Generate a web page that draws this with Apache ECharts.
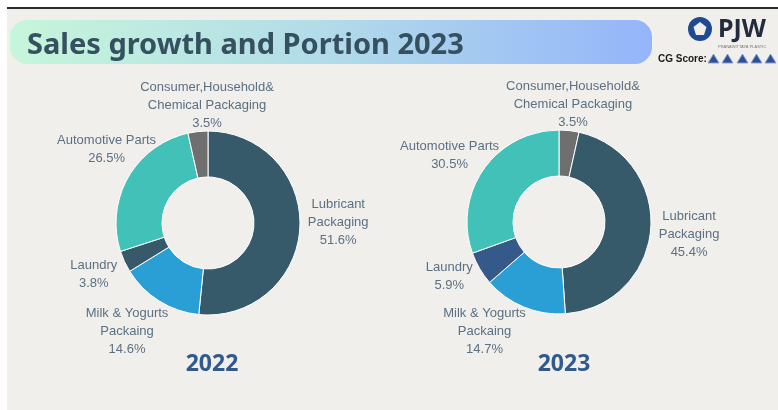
<!DOCTYPE html>
<html><head><meta charset="utf-8">
<script src="https://cdn.jsdelivr.net/npm/echarts@6/dist/echarts.min.js"></script>
<style>html,body{margin:0;padding:0;background:#fff}#c{width:778px;height:410px}</style>
</head><body><div id="c"></div>
<script>
// ---- data ----
const title = 'Sales growth and Portion 2023';
const year1 = '2022';
const year2 = '2023';
const cats2022 = ['Lubricant\nPackaging', 'Milk & Yogurts\nPackaing', 'Laundry', 'Automotive Parts', 'Consumer,Household&\nChemical Packaging'];
const vals2022 = [51.6, 14.6, 3.8, 26.5, 3.5];
const cats2023 = ['Consumer,Household&\nChemical Packaging', 'Lubricant\nPackaging', 'Milk & Yogurts\nPackaing', 'Laundry', 'Automotive Parts'];
const vals2023 = [3.5, 45.4, 14.7, 5.9, 30.5];

// ---- styles ----
const colors2022 = ['#375a6b', '#2a9fd5', '#375a6b', '#42c1b8', '#6f6f6f'];
const colors2023 = ['#6f6f6f', '#375a6b', '#2a9fd5', '#355a8a', '#42c1b8'];
const centers = [[208, 223], [559, 222]];
const radii = [46, 92];
const labelGap = 8;
const nudges2022 = [[0, -7], [-11, -3], [0, -1], [17, -6], [13, 9]];
const nudges2023 = [[0, 9], [0, 3], [-25, -10], [0, -10], [-2, 9]];
const labelColor = '#5b7083';

function makeLayout(vals, center, nudges) {
  const total = vals.reduce((a, b) => a + b, 0);
  return function (p) {
    let before = 0;
    for (let i = 0; i < p.dataIndex; i++) before += vals[i];
    const mid = (before + vals[p.dataIndex] / 2) / total * Math.PI * 2;
    const dx = Math.sin(mid), dy = -Math.cos(mid);
    const w = p.labelRect.width, h = p.labelRect.height;
    const r0 = radii[1] + labelGap;
    const t = Math.min(Math.abs(dx) > 1e-6 ? w / 2 / Math.abs(dx) : 1e9, Math.abs(dy) > 1e-6 ? h / 2 / Math.abs(dy) : 1e9);
    const n = nudges[p.dataIndex];
    return {
      x: center[0] + dx * (r0 + t) + n[0],
      y: center[1] + dy * (r0 + t) + n[1],
      align: 'center', verticalAlign: 'middle'
    };
  };
}

function pie(cats, vals, colors, center, nudges) {
  return {
    type: 'pie', center: center, radius: radii, startAngle: 90, clockwise: true,
    avoidLabelOverlap: false,
    itemStyle: { borderColor: '#ffffff', borderWidth: 1 },
    label: { show: true, position: 'outside', formatter: '{b}\n{c}%', color: labelColor,
      fontFamily: 'Liberation Sans', fontSize: 13, lineHeight: 18, align: 'center' },
    labelLine: { show: false },
    emphasis: { disabled: true },
    labelLayout: makeLayout(vals, center, nudges),
    data: cats.map((c, i) => ({ name: c, value: vals[i], itemStyle: { color: colors[i] } }))
  };
}

const chart = echarts.init(document.getElementById('c'), null, { renderer: 'canvas' });
const tri = (x) => ({ type: 'polygon', shape: { points: [[x, 63], [x + 5.5, 54], [x + 11, 63]] },
  style: { fill: '#2c4f9a', stroke: '#8aa0c8', lineWidth: 1 } });
chart.setOption({
  backgroundColor: '#ffffff',
  animation: false,
  title: [
    { text: title, left: 22, top: 26, textStyle: { fontFamily: 'Noto Sans', fontWeight: 'bold', fontSize: 29, color: '#35505f' } },
    { text: year1, left: 207, top: 359, textAlign: 'center', textVerticalAlign: 'middle',
      textStyle: { fontFamily: 'Noto Sans', fontWeight: 'bold', fontSize: 23, color: '#2f5a8b' } },
    { text: year2, left: 559, top: 359, textAlign: 'center', textVerticalAlign: 'middle',
      textStyle: { fontFamily: 'Noto Sans', fontWeight: 'bold', fontSize: 23, color: '#2f5a8b' } }
  ],
  graphic: [
    { type: 'rect', z: -10, shape: { x: 7, y: 9, width: 771, height: 401 }, style: { fill: '#f1efeb' } },
    { type: 'rect', z: -9, shape: { x: 7, y: 7, width: 771, height: 2 }, style: { fill: '#2b2b2b' } },
    { type: 'rect', z: -8, shape: { x: 10, y: 20, width: 642, height: 44, r: 17 },
      style: { fill: new echarts.graphic.LinearGradient(0, 0, 1, 0, [
        { offset: 0, color: '#c6f6da' }, { offset: 0.5, color: '#b1dbe9' }, { offset: 1, color: '#94b5fa' }]) } },
    { type: 'circle', shape: { cx: 700, cy: 29, r: 12 }, style: { fill: '#1f4a92' } },
    { type: 'polygon', shape: { points: [[700, 22], [706.5, 27], [704, 35], [696, 35], [693.5, 27]] }, style: { fill: '#f1efeb' } },
    { type: 'text', style: { x: 718, y: 30, text: 'PJW', verticalAlign: 'middle', fontFamily: 'Noto Sans', fontWeight: 'bold', fontSize: 25, fill: '#222c3c' } },
    { type: 'text', style: { x: 718, y: 47, text: 'PRANAWITTAYA PLASTIC', verticalAlign: 'middle', fontFamily: 'Liberation Sans', fontSize: 4, fill: '#777777' } },
    { type: 'text', style: { x: 658, y: 59, text: 'CG Score:', verticalAlign: 'middle', fontFamily: 'Liberation Sans', fontWeight: 'bold', fontSize: 10, fill: '#1a1a1a' } },
    tri(708), tri(722), tri(737), tri(751), tri(765)
  ],
  series: [
    pie(cats2022, vals2022, colors2022, centers[0], nudges2022),
    pie(cats2023, vals2023, colors2023, centers[1], nudges2023)
  ]
});
</script></body></html>
